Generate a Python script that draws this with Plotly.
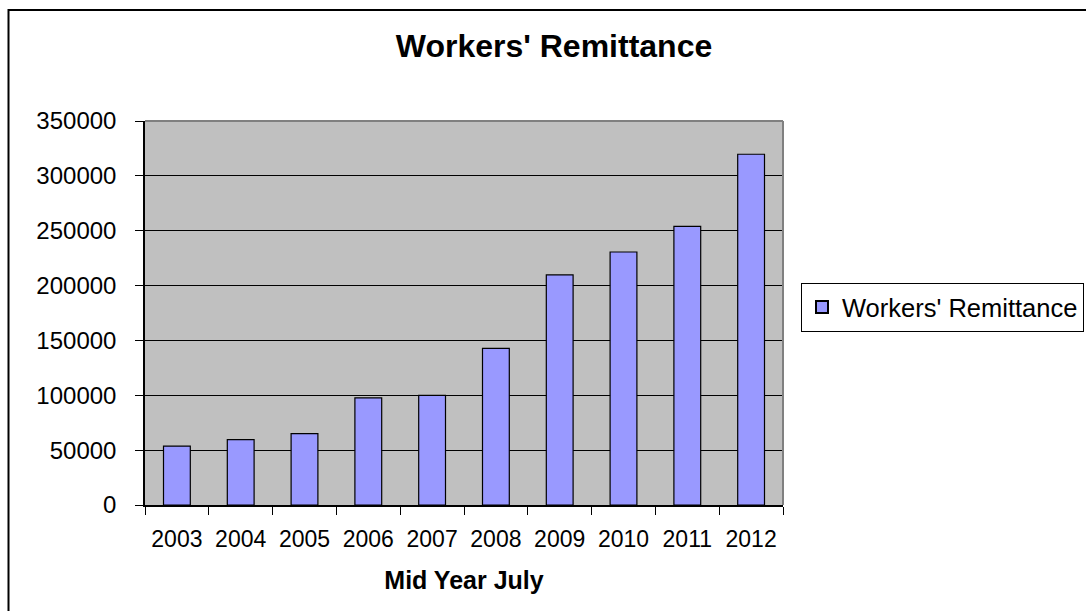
import plotly.graph_objects as go

years = ["2003", "2004", "2005", "2006", "2007", "2008", "2009", "2010", "2011", "2012"]
remittance = [53700, 59500, 65000, 97600, 100000, 142700, 209700, 230600, 253900, 319700]
series_name = "Workers' Remittance"
chart_title = "Workers' Remittance"
x_title = "Mid Year July"
y_ticks = [0, 50000, 100000, 150000, 200000, 250000, 300000, 350000]

W, H = 1086, 611
L, R, T, B = 145, 783, 121, 505

def px_x(p):
    return (p - L) / (R - L)

def px_y(p):
    return (B - p) / (B - T)

FONT = "Arial, 'Liberation Sans', sans-serif"

fig = go.Figure()
fig.add_trace(go.Bar(
    x=years, y=remittance, name=series_name,
    marker=dict(color="#9999ff", line=dict(color="black", width=1.2)),
    width=0.42,
    showlegend=True,
))

fig.update_layout(
    width=W, height=H,
    margin=dict(l=L, r=W - R, t=T, b=H - B, pad=0, autoexpand=False),
    paper_bgcolor="white",
    plot_bgcolor="#c0c0c0",
    font=dict(family=FONT, color="black"),
    title=dict(text="<b>" + chart_title + "</b>", x=554 / W, xref="container", xanchor="center",
               y=1 - 46 / H, yref="container", yanchor="middle",
               font=dict(size=32, family=FONT, color="black")),
    showlegend=True,
    legend=dict(x=801 / W, y=1 - 283 / H, xref="container", yref="container",
                xanchor="left", yanchor="top",
                bordercolor="black", borderwidth=1, bgcolor="white",
                font=dict(size=25.5, family=FONT, color="black"),
                itemsizing="constant"),
    bargap=0.58,
)

fig.update_xaxes(
    type="category",
    showline=True, linecolor="black", linewidth=1.5,
    ticks="outside", ticklen=8, tickcolor="black", tickwidth=1.3,
    tickson="boundaries",
    showgrid=False, zeroline=False,
    tickfont=dict(size=23, family=FONT, color="black"),
    ticklabelstandoff=13,
    title=dict(text="<b>" + x_title + "</b>", font=dict(size=25, family=FONT, color="black"), standoff=20),
    range=[-0.5, 9.5],
    automargin=False,
)
fig.update_yaxes(
    range=[0, 350000],
    tickvals=y_ticks, tickformat="d",
    showline=True, linecolor="black", linewidth=1.5,
    ticks="outside", ticklen=8, tickcolor="black", tickwidth=1.3,
    showgrid=True, gridcolor="black", gridwidth=1.3,
    zeroline=False,
    tickfont=dict(size=24, family=FONT, color="black"),
    ticklabelstandoff=14,
    automargin=False,
)

# plot area top/right border (gray)
fig.add_shape(type="line", xref="paper", yref="paper", x0=0, x1=1, y0=1, y1=1,
              line=dict(color="#808080", width=2))
fig.add_shape(type="line", xref="paper", yref="paper", x0=1, x1=1, y0=0, y1=1,
              line=dict(color="#808080", width=2))
# outer chart frame
fig.add_shape(type="rect", xref="paper", yref="paper",
              x0=px_x(8.5), x1=px_x(1100), y0=px_y(625), y1=px_y(10),
              line=dict(color="black", width=2), fillcolor="rgba(0,0,0,0)")

fig.write_html("out.html")
